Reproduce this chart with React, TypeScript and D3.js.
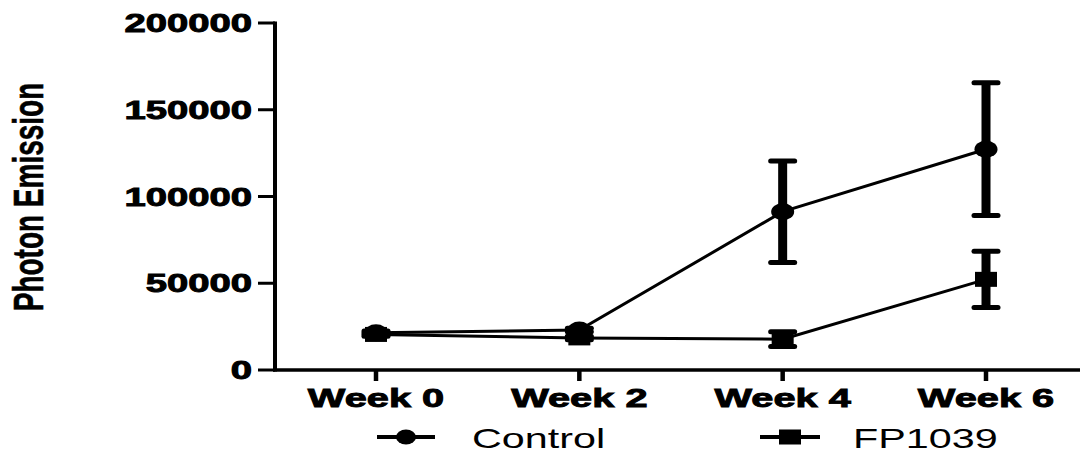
import React from "react";
import * as d3 from "d3";

const categories = ["Week 0", "Week 2", "Week 4", "Week 6"];
const controlMean = [21500, 23000, 91250, 127250];
const controlSem = [1000, 1000, 29250, 38250];
const fpMean = [20500, 18500, 17750, 52250];
const fpSem = [1000, 1000, 4250, 16250];
const yTicks = [0, 50000, 100000, 150000, 200000];
const seriesNames = ["Control", "FP1039"];

const W = 1082;
const H = 454;
const SX = 1.53;
const FONT = "'Liberation Sans', Arial, Helvetica, sans-serif";

export default function App() {
  const x = d3.scalePoint<string>().domain(categories).range([376, 986]);
  const y = d3.scaleLinear().domain([0, 200000]).range([370, 23]);
  const line = d3
    .line<number>()
    .x((_, i) => x(categories[i]) as number)
    .y((d) => y(d));

  const errBars = (mean: number[], sem: number[], key: string) =>
    mean.map((m, i) => {
      const cx = x(categories[i]) as number;
      const y1 = y(m + sem[i]);
      const y2 = y(m - sem[i]);
      return (
        <g key={key + i}>
          <line x1={cx} x2={cx} y1={y1} y2={y2} stroke="#000" strokeWidth={9} />
          <line x1={cx - 12} x2={cx + 12} y1={y1} y2={y1} stroke="#000" strokeWidth={5} strokeLinecap="round" />
          <line x1={cx - 12} x2={cx + 12} y1={y2} y2={y2} stroke="#000" strokeWidth={5} strokeLinecap="round" />
        </g>
      );
    });

  return (
    <svg width={W} height={H} style={{ position: "absolute", left: 0, top: 0, background: "#fff" }}>
      {/* y axis */}
      <line x1={275} x2={275} y1={y(200000) - 1.5} y2={y(0) + 1.5} stroke="#000" strokeWidth={4} />
      {yTicks.map((t) => (
        <g key={t}>
          <line x1={258} x2={275} y1={y(t)} y2={y(t)} stroke="#000" strokeWidth={3} />
          <text
            transform={`translate(252,${y(t) + 9}) scale(${SX},1)`}
            textAnchor="end"
            fontFamily={FONT}
            fontWeight="bold"
            fontSize={25}
            stroke="#000"
            strokeWidth={0.9}
          >
            {t}
          </text>
        </g>
      ))}
      {/* x axis */}
      <line x1={273} x2={1080} y1={y(0)} y2={y(0)} stroke="#000" strokeWidth={3.5} />
      {categories.map((c) => (
        <g key={c}>
          <line x1={x(c)} x2={x(c)} y1={y(0)} y2={y(0) + 11} stroke="#000" strokeWidth={4.5} />
          <text
            transform={`translate(${x(c)},407) scale(${SX},1)`}
            textAnchor="middle"
            fontFamily={FONT}
            fontWeight="bold"
            fontSize={26}
            stroke="#000"
            strokeWidth={0.9}
          >
            {c}
          </text>
        </g>
      ))}
      {/* y title */}
      <text
        transform={`translate(43,197) scale(${SX},1) rotate(-90)`}
        textAnchor="middle"
        fontFamily={FONT}
        fontWeight="bold"
        fontSize={28}
        stroke="#000"
        strokeWidth={0.4}
      >
        Photon Emission
      </text>

      {/* error bars */}
      {errBars(controlMean, controlSem, "c")}
      {errBars(fpMean, fpSem, "f")}

      {/* lines */}
      <path d={line(controlMean) || ""} fill="none" stroke="#000" strokeWidth={3} />
      <path d={line(fpMean) || ""} fill="none" stroke="#000" strokeWidth={3} />

      {/* markers */}
      {controlMean.map((m, i) => (
        <ellipse key={"cm" + i} cx={x(categories[i])} cy={y(m)} rx={11.5} ry={8.5} fill="#000" />
      ))}
      {fpMean.map((m, i) => (
        <rect key={"fm" + i} x={(x(categories[i]) as number) - 11} y={y(m) - 7.5} width={22} height={15} fill="#000" />
      ))}

      {/* legend */}
      <line x1={377} x2={435} y1={437} y2={437} stroke="#000" strokeWidth={4} />
      <ellipse cx={406} cy={437} rx={10} ry={7.5} fill="#000" />
      <text transform={`translate(472,448) scale(${SX},1)`} fontFamily={FONT} fontSize={27}>
        {seriesNames[0]}
      </text>
      <line x1={760} x2={820} y1={437} y2={437} stroke="#000" strokeWidth={4} />
      <rect x={779} y={429.5} width={22} height={15} fill="#000" />
      <text transform={`translate(853,448) scale(${SX},1)`} fontFamily={FONT} fontSize={27}>
        {seriesNames[1]}
      </text>
    </svg>
  );
}
